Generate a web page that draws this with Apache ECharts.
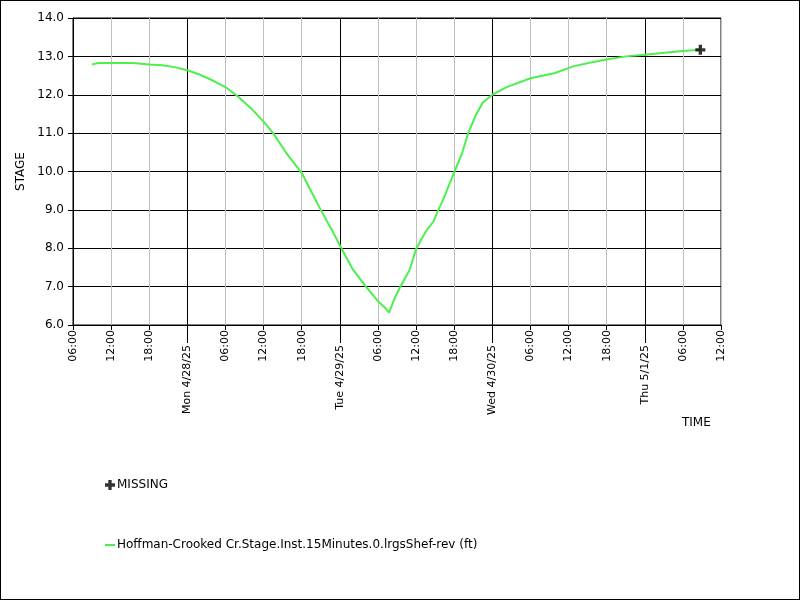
<!DOCTYPE html>
<html>
<head>
<meta charset="utf-8">
<script src="https://cdn.jsdelivr.net/npm/echarts@6/dist/echarts.min.js"></script>
<style>
  body { margin: 0; background: #fff; }
  #main { width: 800px; height: 600px; box-sizing: border-box; border: 1px solid #000; }
</style>
</head>
<body>
<div id="main"></div>
<script>
// stage readings, times are UTC-like wall clock
var times = [
  '04-27 09:00', '04-27 10:00', '04-27 15:30', '04-27 18:00', '04-27 20:00', '04-27 22:00',
  '04-28 00:00', '04-28 02:00', '04-28 03:30', '04-28 06:00', '04-28 08:00', '04-28 10:00',
  '04-28 12:00', '04-28 13:30', '04-28 15:30', '04-28 18:00', '04-28 21:00', '04-28 23:00',
  '04-29 00:00', '04-29 02:00', '04-29 04:00', '04-29 06:00', '04-29 07:00', '04-29 07:45',
  '04-29 08:30', '04-29 09:30', '04-29 11:00', '04-29 12:00', '04-29 13:30', '04-29 14:45',
  '04-29 15:30', '04-29 16:15', '04-29 18:00', '04-29 19:15', '04-29 20:15', '04-29 21:30',
  '04-29 22:30', '04-30 00:00', '04-30 02:15', '04-30 06:00', '04-30 09:45', '04-30 12:45',
  '04-30 15:30', '04-30 18:00', '04-30 21:00', '05-01 00:00', '05-01 03:30', '05-01 06:00',
  '05-01 08:45'
];
var stage = [
  12.79, 12.83, 12.83, 12.79, 12.77, 12.72,
  12.64, 12.52, 12.41, 12.20, 11.95, 11.65,
  11.30, 11.00, 10.50, 9.96, 9.00, 8.40,
  8.08, 7.46, 7.02, 6.62, 6.47, 6.32,
  6.65, 6.99, 7.44, 7.98, 8.43, 8.70,
  9.00, 9.26, 9.98, 10.48, 11.02, 11.50,
  11.80, 12.00, 12.20, 12.43, 12.56, 12.74,
  12.84, 12.92, 13.00, 13.04, 13.10, 13.14,
  13.17
];
var missingTimes = ['05-01 08:45'];
var missingValues = [13.17];

var yTicks = { min: 6, max: 14, step: 1 };
var seriesName = 'Hoffman-Crooked Cr.Stage.Inst.15Minutes.0.lrgsShef-rev (ft)';
var dayNames = ['Sun', 'Mon', 'Tue', 'Wed', 'Thu', 'Fri', 'Sat'];

// x axis runs in hours from 4/27/25 06:00 to 5/1/25 12:00
var base = Date.UTC(2025, 3, 27, 6, 0);
var xMax = 102;
function toHours(s) {
  var m = s.match(/(\d+)-(\d+) (\d+):(\d+)/);
  return (Date.UTC(2025, m[1] - 1, +m[2], +m[3], +m[4]) - base) / 3600000;
}
function pad(n) { return n < 10 ? '0' + n : '' + n; }

var lineData = times.map(function (t, i) { return [toHours(t), stage[i]]; });
var missData = missingTimes.map(function (t, i) { return [toHours(t), missingValues[i]]; });

var midnights = [];
for (var h = 0; h <= xMax; h += 6) {
  if (new Date(base + h * 3600000).getUTCHours() === 0) midnights.push(h);
}

var plusIcon = 'path://M3,0H6V3H9V6H6V9H3V6H0V3H3Z';
var font = 'DejaVu Sans';

var chart = echarts.init(document.getElementById('main'));
chart.setOption({
  animation: false,
  textStyle: { fontFamily: font },
  grid: { left: 72, top: 17, width: 648, height: 307, show: true, borderColor: '#000', borderWidth: 1 },
  legend: {
    orient: 'vertical',
    left: 99,
    top: 473,
    itemGap: 48,
    itemWidth: 10,
    itemHeight: 10,
    textStyle: { fontSize: 12, color: '#000', fontFamily: font, padding: [0, 0, 0, -3] },
    data: [
      { name: 'MISSING', icon: plusIcon },
      { name: seriesName, icon: 'path://M0,0H10V2H0Z' }
    ]
  },
  graphic: [{
    type: 'text', left: 681, top: 416,
    style: { text: 'TIME', fontSize: 12, fill: '#000', fontFamily: font }
  }],
  xAxis: [{
    type: 'value',
    min: 0,
    max: xMax,
    interval: 6,
    axisLine: { lineStyle: { color: '#000' } },
    axisTick: { length: 5, lineStyle: { color: '#000' } },
    splitLine: {
      show: true,
      lineStyle: { color: ['#c0c0c0', '#c0c0c0', '#c0c0c0', '#000000'], width: 1 }
    },
    axisLabel: {
      rotate: 90,
      margin: 5,
      fontSize: 11,
      color: '#000',
      formatter: function (v) {
        var d = new Date(base + v * 3600000);
        if (d.getUTCHours() === 0) {
          return '{d|' + dayNames[d.getUTCDay()] + ' ' + (d.getUTCMonth() + 1) + '/' +
            d.getUTCDate() + '/' + String(d.getUTCFullYear()).slice(2) + '}';
        }
        return pad(d.getUTCHours()) + ':00';
      },
      rich: { d: { fontSize: 11, padding: [0, 15, 0, 0], fontFamily: font } }
    }
  }, {
    type: 'value',
    min: 0,
    max: xMax,
    position: 'bottom',
    axisLine: { show: false },
    axisLabel: { show: false },
    splitLine: { show: false },
    axisTick: { show: true, customValues: midnights, length: 18, lineStyle: { color: '#000' } }
  }],
  yAxis: {
    type: 'value',
    min: yTicks.min,
    max: yTicks.max,
    interval: yTicks.step,
    name: 'STAGE',
    nameLocation: 'middle',
    nameGap: 44,
    nameTextStyle: { fontSize: 12, color: '#000' },
    axisLine: { show: true, lineStyle: { color: '#000' } },
    axisTick: { show: true, length: 5, lineStyle: { color: '#000' } },
    splitLine: { lineStyle: { color: '#000', width: 1 } },
    axisLabel: {
      fontSize: 12,
      color: '#000',
      margin: 9,
      formatter: function (v) { return v.toFixed(1); }
    }
  },
  series: [{
    name: 'MISSING',
    type: 'scatter',
    symbol: plusIcon,
    symbolSize: 10,
    itemStyle: { color: '#000' },
    data: missData,
    z: 5
  }, {
    name: seriesName,
    type: 'line',
    showSymbol: false,
    symbol: 'none',
    lineStyle: { color: '#4def4d', width: 2 },
    itemStyle: { color: '#4def4d' },
    data: lineData
  }]
});
</script>
</body>
</html>
